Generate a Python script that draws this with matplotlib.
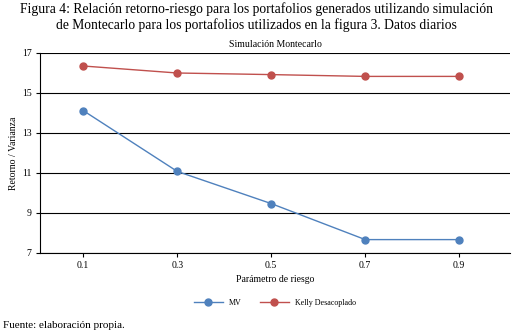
import matplotlib.pyplot as plt

# Relacion retorno-riesgo, simulacion Montecarlo (datos diarios)
riesgo = ["0.1", "0.3", "0.5", "0.7", "0.9"]
mv = [14.12, 11.08, 9.47, 7.67, 7.67]
kelly = [16.35, 16.0, 15.92, 15.83, 15.83]
yticks = [7, 9, 11, 13, 15, 17]

plt.rcParams['font.family'] = ['Liberation Serif', 'DejaVu Serif']

fig = plt.figure(figsize=(5.12, 3.36), dpi=100)
ax = fig.add_axes([40 / 512, 83 / 336, 470 / 512, 200 / 336])

x = range(len(riesgo))
ax.plot(x, mv, color="#4F81BD", lw=1.0, marker="o", ms=5, label="MV")
ax.plot(x, kelly, color="#C0504D", lw=1.0, marker="o", ms=5, label="Kelly Desacoplado")

ax.set_xlim(-0.46, 4.54)
ax.set_ylim(7, 17)
ax.set_xticks(list(x))
ax.set_xticklabels(riesgo)
ax.set_yticks(yticks)
ax.tick_params(labelsize=7, length=3, width=0.8, color="black", pad=3)
ax.grid(axis="y", color="black", lw=0.8)
ax.set_axisbelow(True)
for s in ["top", "right"]:
    ax.spines[s].set_visible(False)
for s in ["left", "bottom"]:
    ax.spines[s].set_linewidth(0.8)

ax.set_xlabel("Parámetro de riesgo", fontsize=7, labelpad=3)
ax.set_ylabel("Retorno / Varianza", fontsize=7, labelpad=3)
ax.set_title("Simulación Montecarlo", fontsize=7, pad=4)

fig.legend(loc="center", bbox_to_anchor=(275 / 512, 1 - 303 / 336), ncol=2,
           frameon=False, fontsize=5.8, handlelength=3.6, handletextpad=0.8,
           columnspacing=2.2)

fig.text(0.5, 1 - 17 / 336,
         "Figura 4: Relación retorno-riesgo para los portafolios generados utilizando simulación\n"
         "de Montecarlo para los portafolios utilizados en la figura 3. Datos diarios",
         ha="center", va="center", fontsize=9.8, linespacing=1.2)
fig.text(3 / 512, 1 - 325 / 336, "Fuente: elaboración propia.", ha="left", va="center", fontsize=8)

fig.savefig("out.png", dpi=100)
